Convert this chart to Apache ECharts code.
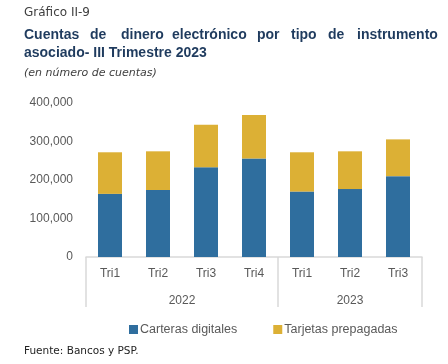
<!DOCTYPE html>
<html>
<head>
<meta charset="utf-8">
<script src="https://cdn.jsdelivr.net/npm/echarts@6/dist/echarts.min.js"></script>
<style>html,body{margin:0;padding:0;background:#fff}#c{width:448px;height:364px}</style>
</head>
<body>
<div id="c"></div>
<script>
// ---- data ----
const categories = ['Tri1', 'Tri2', 'Tri3', 'Tri4', 'Tri1', 'Tri2', 'Tri3'];
const years = ['2022', '2023'];
const yearSizes = [4, 3];
const carteras = [164000, 174000, 233000, 256000, 170000, 176500, 210000];
const tarjetas = [108000, 100500, 110500, 113000, 102000, 98000, 95500];
const yTicks = [0, 100000, 200000, 300000, 400000];

// year axis built on half-category steps
const halfN = categories.length * 2 + 1;
const yearAxisData = new Array(halfN).fill('');
const boundaries = new Set();
let s = 0;
yearSizes.forEach((n, i) => {
  yearAxisData[2 * s + n] = years[i];
  boundaries.add(2 * s);
  s += n;
});
boundaries.add(2 * s);

const titleColor = '#1f3b5e';
const line1 = [['Cuentas', 24], ['de', 90], ['dinero', 121], ['electrónico', 172], ['por', 257], ['tipo', 291], ['de', 328], ['instrumento', 357]];
const titleFont = 'bold 14px "Liberation Sans"';

const graphics = [];
graphics.push({type: 'text', left: 24, top: 7, style: {text: 'Gráfico II-9', font: '12px "DejaVu Sans"', fill: '#404040'}});
line1.forEach(([w, x]) => graphics.push({type: 'text', left: x, top: 28, style: {text: w, font: titleFont, fill: titleColor}}));
graphics.push({type: 'text', left: 24, top: 46, style: {text: 'asociado- III Trimestre 2023', font: titleFont, fill: titleColor}});
graphics.push({type: 'text', left: 24, top: 68, style: {text: '(en número de cuentas)', font: 'italic 11px "DejaVu Sans"', fill: '#404040'}});
graphics.push({type: 'text', left: 24, top: 346, style: {text: 'Fuente: Bancos y PSP.', font: '10.5px "DejaVu Sans"', fill: '#222'}});

const chart = echarts.init(document.getElementById('c'), null, {renderer: 'canvas'});
chart.setOption({
  animation: false,
  graphic: graphics,
  grid: {left: 86, right: 26, top: 103, bottom: 107, containLabel: false},
  legend: {
    left: 124, top: 318, itemWidth: 9, itemHeight: 9, itemGap: 36,
    icon: 'rect',
    textStyle: {fontFamily: 'Liberation Sans', fontSize: 12.5, color: '#595959', padding: [0, 0, 0, -3]},
    data: ['Carteras digitales', 'Tarjetas prepagadas']
  },
  xAxis: [
    {
      type: 'category', data: categories, position: 'bottom',
      axisLine: {lineStyle: {color: '#d9d9d9', width: 1.5}},
      axisTick: {show: false},
      axisLabel: {color: '#595959', fontFamily: 'Liberation Sans', fontSize: 12, margin: 11}
    },
    {
      type: 'category', data: yearAxisData, position: 'bottom', boundaryGap: false,
      axisLine: {show: false},
      axisTick: {show: true, length: 50, lineStyle: {color: '#d9d9d9', width: 1.5},
        interval: (idx) => boundaries.has(idx)},
      axisLabel: {interval: 0, color: '#595959', fontFamily: 'Liberation Sans', fontSize: 12, margin: 38}
    }
  ],
  yAxis: {
    type: 'value', min: yTicks[0], max: yTicks[yTicks.length - 1], interval: yTicks[1] - yTicks[0],
    axisLine: {show: false}, axisTick: {show: false}, splitLine: {show: false},
    axisLabel: {color: '#595959', fontFamily: 'Liberation Sans', fontSize: 12, margin: 13,
      formatter: v => v.toLocaleString('en-US')}
  },
  series: [
    {name: 'Carteras digitales', type: 'bar', stack: 't', data: carteras, barWidth: 24,
      itemStyle: {color: '#2f6e9e'}},
    {name: 'Tarjetas prepagadas', type: 'bar', stack: 't', data: tarjetas, barWidth: 24,
      itemStyle: {color: '#dcb035'}}
  ]
});
</script>
</body>
</html>
